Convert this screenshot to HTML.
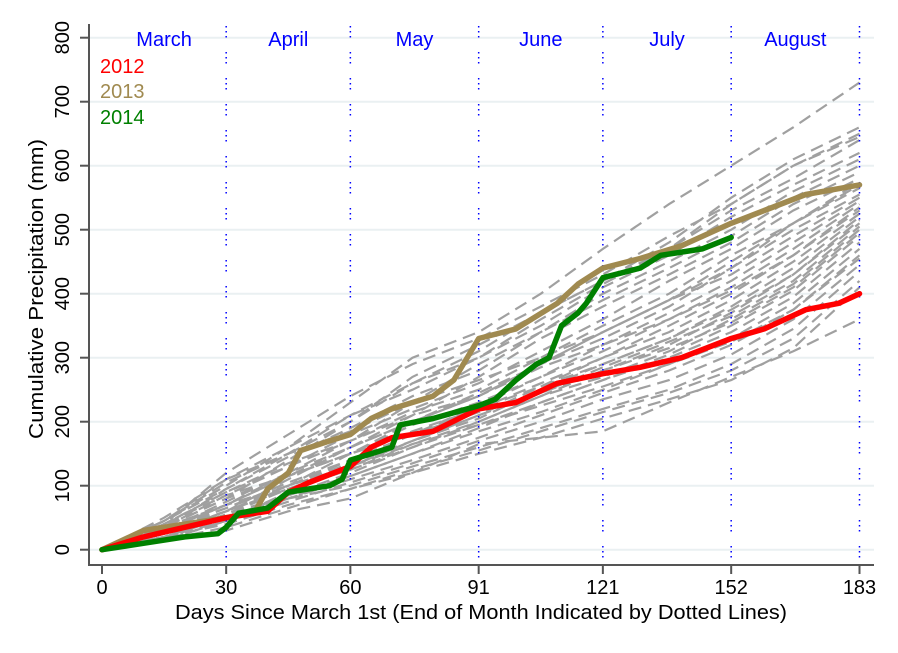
<!DOCTYPE html>
<html><head><meta charset="utf-8"><style>
html,body{margin:0;padding:0;background:#fff;}
svg{display:block;font-family:"Liberation Sans",Arial,sans-serif;}
</style></head><body>
<svg id="chart" width="898" height="653" viewBox="0 0 898 653" xmlns="http://www.w3.org/2000/svg">
<rect x="0" y="0" width="898" height="653" fill="#fff"/>
<g id="grid"></g>
<g id="gray"></g>
<g id="months"></g>
<g id="main"></g>
<g id="axes"></g>
<text x="43" y="289" transform="rotate(-90 43 289)" text-anchor="middle" font-size="20" textLength="300" lengthAdjust="spacingAndGlyphs" fill="#000">Cumulative Precipitation (mm)</text>
<text x="481" y="619" text-anchor="middle" font-size="20" textLength="612" lengthAdjust="spacingAndGlyphs" fill="#000">Days Since March 1st (End of Month Indicated by Dotted Lines)</text>
<text x="100" y="73" font-size="20" fill="#ff0000">2012</text>
<text x="100" y="98" font-size="20" fill="#a08a50">2013</text>
<text x="100" y="124" font-size="20" fill="#008000">2014</text>
</svg>
<script>
const xTicks = [0, 30, 60, 91, 121, 152, 183];
const yTicks = [0, 100, 200, 300, 400, 500, 600, 700, 800];
const monthNames = ["March", "April", "May", "June", "July", "August"];
const monthEnds = [30, 60, 91, 121, 152, 183];
const grayDays = [0, 15, 30, 45, 60, 75, 91, 106, 121, 137, 152, 167, 183];
const grayValues = [
 [0,45,100,160,230,300,340,400,470,540,600,660,730],
 [0,40,120,180,240,290,330,380,430,490,540,600,650],
 [0,35,80,140,200,270,320,370,420,470,530,580,640],
 [0,50,110,150,210,250,300,350,410,460,520,570,620],
 [0,30,70,120,170,230,290,340,400,450,500,560,610],
 [0,45,95,145,190,240,280,340,390,440,490,550,600],
 [0,25,60,110,160,210,270,330,380,430,480,540,590],
 [0,35,85,130,180,220,260,310,360,420,470,530,580],
 [0,40,90,135,170,215,250,300,350,400,460,510,570],
 [0,20,55,100,150,200,240,290,340,390,450,510,565],
 [0,30,75,120,160,200,245,290,330,380,440,500,555],
 [0,45,105,150,185,230,265,300,340,390,430,490,550],
 [0,25,60,100,140,180,225,270,320,370,420,480,545],
 [0,30,70,115,150,195,230,270,310,360,410,470,540],
 [0,15,45,90,130,170,210,255,300,350,400,460,535],
 [0,40,90,130,170,210,240,285,320,360,405,460,530],
 [0,30,65,105,140,180,220,260,300,340,390,450,525],
 [0,25,60,95,130,170,205,250,290,330,380,440,520],
 [0,35,80,115,150,185,220,255,290,330,375,430,515],
 [0,20,50,85,120,160,200,240,280,320,370,430,510],
 [0,30,65,100,135,170,210,245,285,325,365,420,505],
 [0,25,55,95,125,165,200,240,270,310,360,415,500],
 [0,40,85,115,150,180,215,245,280,315,355,410,495],
 [0,15,45,80,115,150,190,230,265,305,350,405,490],
 [0,30,60,95,125,160,195,230,265,300,340,395,480],
 [0,25,55,85,115,150,185,215,250,290,330,385,470],
 [0,20,50,80,110,140,175,210,245,280,320,375,460],
 [0,35,70,100,130,165,195,225,255,290,325,375,455],
 [0,20,45,75,105,135,170,200,235,265,305,360,445],
 [0,25,50,80,100,130,160,190,220,250,290,345,435],
 [0,15,35,65,95,125,155,185,215,245,280,330,420],
 [0,20,40,70,95,120,150,175,205,235,265,315,410],
 [0,15,30,60,80,120,165,175,185,230,270,310,360],
 [0,45,110,160,210,260,310,370,420,480,550,610,660],
 [0,35,95,150,200,260,300,360,415,470,540,600,645],
 [0,30,70,115,160,200,240,290,340,390,440,510,575]
];
const days2012 = [0,10,20,30,40,45,50,60,65,70,80,91,100,110,121,130,140,152,160,170,178,183];
const vals2012 = [0,20,35,50,60,90,105,130,160,175,185,220,230,260,275,285,300,330,345,375,385,400];
const days2013 = [0,10,20,30,37,40,45,48,55,60,65,70,80,85,91,100,110,115,121,130,140,152,160,170,183];
const vals2013 = [0,30,40,50,60,95,120,155,170,180,205,220,240,265,330,345,385,415,440,455,475,510,530,555,570];
const days2014 = [0,10,20,28,30,33,40,45,55,58,60,65,70,72,80,91,95,100,105,108,111,115,117,121,130,135,140,145,152];
const vals2014 = [0,10,20,25,35,57,65,90,100,110,140,150,160,195,205,225,235,265,290,300,350,370,385,425,440,460,465,470,488];

const NS = "http://www.w3.org/2000/svg";
const X0 = 102, XS = (859.5 - 102) / 183;
const Y0 = 549.7, YS = 64 / 100;
function xPos(d){ return X0 + d * XS; }
function yPos(v){ return Y0 - v * YS; }
function mk(tag, attrs, parent){
  const el = document.createElementNS(NS, tag);
  for (const k in attrs) el.setAttribute(k, attrs[k]);
  parent.appendChild(el);
  return el;
}
function pathOf(ds, vs){ return ds.map((d,i)=>(i?"L":"M")+xPos(d).toFixed(1)+","+yPos(vs[i]).toFixed(1)).join(""); }

const grid = document.getElementById("grid");
yTicks.forEach(v=>{
  const l = mk("line", {x1:89, x2:874, y1:yPos(v), y2:yPos(v), stroke:"#eaf0f2", "stroke-width":2}, grid);
  
  
});

const gray = document.getElementById("gray");
grayValues.forEach((vs,i)=>{
  const p = mk("path", {d:pathOf(grayDays, vs), fill:"none", stroke:"#a0a0a0", "stroke-width":2.2, "stroke-dasharray":"13,7", "stroke-dashoffset":(i*5)%20}, gray);
  
  
});

const months = document.getElementById("months");
monthEnds.forEach((d,i)=>{
  const l = mk("line", {x1:xPos(d), x2:xPos(d), y1:26, y2:562, stroke:"#0000ff", "stroke-width":1.5, "stroke-dasharray":"1.5,3.5,1.5,3.5,1.5,14.5"}, months);
  
  
  const start = i === 0 ? 0 : monthEnds[i-1];
  const t = mk("text", {x:(xPos(start)+xPos(d))/2, y:46, "text-anchor":"middle", "font-size":20, fill:"#0000ff"}, months);
  t.textContent = monthNames[i];
  
  
});

const main = document.getElementById("main");
[[days2013, vals2013, "#a08a50", "line-2013"], [days2012, vals2012, "#ff0000", "line-2012"], [days2014, vals2014, "#008000", "line-2014"]].forEach(s=>{
  const p = mk("path", {d:pathOf(s[0], s[1]), fill:"none", stroke:s[2], "stroke-width":5.5, "stroke-linejoin":"round", "stroke-linecap":"round"}, main);
  
  
});

const axes = document.getElementById("axes");
const ya = mk("line", {x1:89, x2:89, y1:24, y2:565, stroke:"#555", "stroke-width":2}, axes);


const xa = mk("line", {x1:88, x2:874, y1:565, y2:565, stroke:"#555", "stroke-width":2}, axes);


yTicks.forEach(v=>{
  const tk = mk("line", {x1:80, x2:89, y1:yPos(v), y2:yPos(v), stroke:"#555", "stroke-width":2}, axes);
  
  
  const t = mk("text", {x:69, y:yPos(v), transform:"rotate(-90 69 "+yPos(v)+")", "text-anchor":"middle", "font-size":20, fill:"#000"}, axes);
  t.textContent = v;
  
  
});
xTicks.forEach(d=>{
  const tk = mk("line", {x1:xPos(d), x2:xPos(d), y1:565, y2:574, stroke:"#555", "stroke-width":2}, axes);
  
  
  const t = mk("text", {x:xPos(d), y:594, "text-anchor":"middle", "font-size":20, fill:"#000"}, axes);
  t.textContent = d;
  
  
});
</script>
</body></html>
